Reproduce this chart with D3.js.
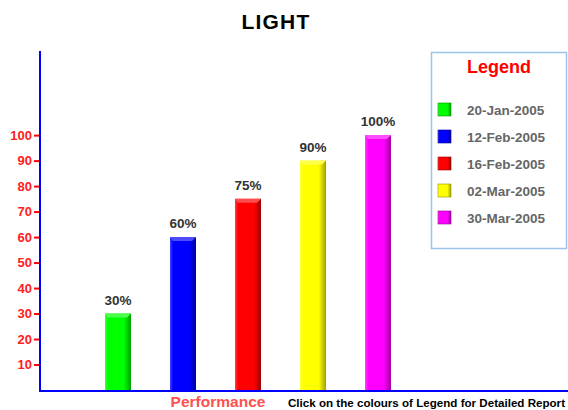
<!DOCTYPE html>
<html><head><meta charset="utf-8">
<script src="https://cdn.jsdelivr.net/npm/d3@7"></script>
<style>html,body{margin:0;padding:0;background:#fff;}svg{display:block;font-family:"Liberation Sans",Arial,sans-serif;}</style>
</head><body>
<svg id="c" width="568" height="410"></svg>
<script>
const categories = ["20-Jan-2005","12-Feb-2005","16-Feb-2005","02-Mar-2005","30-Mar-2005"];
const values = [30, 60, 75, 90, 100];
const colors = ["#00ff00","#0000ff","#ff0000","#ffff00","#ff00ff"];
const tickValues = [10,20,30,40,50,60,70,80,90,100];
const title = "LIGHT";
const xLabel = "Performance";
const note = "Click on the colours of Legend for Detailed Report";

const svg = d3.select("#c");
const defs = svg.append("defs");
colors.forEach((c,i)=>{
  const g = defs.append("linearGradient").attr("id","g"+i).attr("x1","0").attr("x2","1").attr("y1","0").attr("y2","0");
  const base = d3.color(c);
  g.append("stop").attr("offset","0").attr("stop-color", d3.interpolateRgb(c,"#fff")(0.25));
  g.append("stop").attr("offset","0.12").attr("stop-color", c);
  g.append("stop").attr("offset","0.72").attr("stop-color", c);
  g.append("stop").attr("offset","1").attr("stop-color", base.darker(1.3));
});

const x = d3.scaleBand().domain(categories).range([40, 456]).paddingInner(0.6).paddingOuter(1);
const y = d3.scaleLinear().domain([0, 133]).range([390, 51]);

// title
svg.append("text").attr("x",276).attr("y",29).attr("text-anchor","middle")
  .attr("font-size",21).attr("font-weight","bold").attr("letter-spacing",1.2).attr("fill","#000").text(title);

// bars
const bars = svg.append("g");
categories.forEach((c,i)=>{
  const bx = x(c), bw = x.bandwidth(), by = y(values[i]), bh = y(0)-y(values[i]);
  bars.append("rect").attr("x",bx).attr("y",by).attr("width",bw).attr("height",bh).attr("fill","url(#g"+i+")");
  bars.append("path").attr("d",`M${bx},${by}L${bx+bw},${by}L${bx+bw-4},${by+4}L${bx+3},${by+4}Z`)
    .attr("fill", d3.interpolateRgb(colors[i],"#fff")(0.3));
  bars.append("text").attr("x",bx+bw/2).attr("y",by-9).attr("text-anchor","middle")
    .attr("font-size",13.5).attr("font-weight","bold").attr("fill","#333").text(values[i]+"%");
});

// y axis
const yAxis = d3.axisLeft(y).tickValues(tickValues).tickSize(6).tickPadding(2).tickFormat(d3.format("d"));
const ya = svg.append("g").attr("transform","translate(40,0)").call(yAxis);
ya.select(".domain").remove();
ya.selectAll(".tick line").attr("stroke","#ff0000").attr("stroke-width",2);
ya.selectAll(".tick text").attr("fill","#ff2020").attr("font-size",13).attr("font-weight","bold")
  .attr("font-family","Liberation Sans, Arial, sans-serif");
svg.append("line").attr("x1",40).attr("x2",40).attr("y1",51).attr("y2",391).attr("stroke","#0000ff").attr("stroke-width",2);
svg.append("line").attr("x1",39).attr("x2",568).attr("y1",391).attr("y2",391).attr("stroke","#0000ff").attr("stroke-width",2);

// x label & note
svg.append("text").attr("x",218).attr("y",407).attr("text-anchor","middle").attr("font-size",15.5)
  .attr("font-weight","bold").attr("fill","#ff5050").text(xLabel);
svg.append("text").attr("x",288).attr("y",407).attr("font-size",11.6)
  .attr("font-weight","bold").attr("fill","#000").text(note);

// legend
const lg = svg.append("g");
lg.append("rect").attr("x",431.5).attr("y",52.5).attr("width",135).attr("height",196)
  .attr("fill","#fff").attr("stroke","#9cc3ec").attr("stroke-width",1.5);
lg.append("text").attr("x",499).attr("y",73).attr("text-anchor","middle").attr("font-size",18)
  .attr("font-weight","bold").attr("fill","#ff0000").text("Legend");
const ly = d3.scalePoint().domain(categories).range([110, 218]);
categories.forEach((c,i)=>{
  const cy = ly(c);
  lg.append("rect").attr("x",438).attr("y",cy-7).attr("width",13).attr("height",13).attr("fill","url(#g"+i+")");
  lg.append("rect").attr("x",438).attr("y",cy-7).attr("width",13).attr("height",13).attr("fill","none")
    .attr("stroke", d3.color(colors[i]).darker(1.5)).attr("stroke-width",0.6);
  lg.append("text").attr("x",467).attr("y",cy+5).attr("font-size",13.5).attr("font-weight","bold")
    .attr("fill","#666").text(c);
});
</script>
</body></html>
